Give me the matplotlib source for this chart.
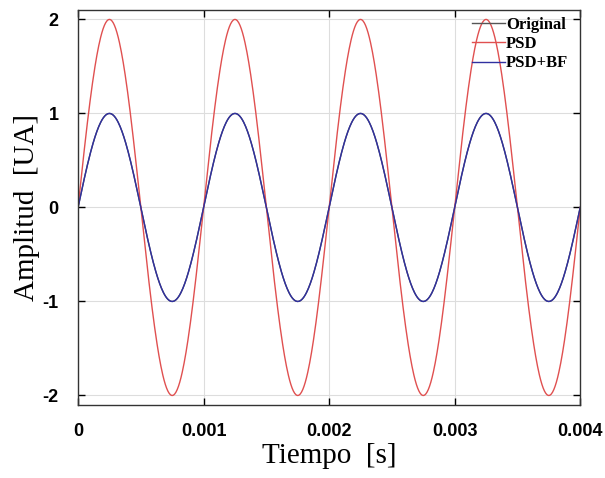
import numpy as np
import matplotlib
matplotlib.use("Agg")
import matplotlib.pyplot as plt

# Signal parameters
freq_hz = 1000.0          # one period every 0.001 s
t_end = 0.004
series_names = ["Original", "PSD", "PSD+BF"]
series_amplitudes = [1.0, 2.0, 1.0]
series_colors = ["#555555", "#e05050", "#3030a0"]

x_ticks = [0, 0.001, 0.002, 0.003, 0.004]
x_tick_labels = ["0", "0.001", "0.002", "0.003", "0.004"]
y_ticks = [-2, -1, 0, 1, 2]
y_tick_labels = ["-2", "-1", "0", "1", "2"]

t = np.linspace(0, t_end, 801)

fig = plt.figure(figsize=(6.05, 4.78), dpi=100)
ax = fig.add_axes([0.129, 0.153, 0.830, 0.826])

for name, amp, col in zip(series_names, series_amplitudes, series_colors):
    ax.plot(t, amp * np.sin(2 * np.pi * freq_hz * t), color=col, lw=1.0, label=name)

ax.set_xlim(0, t_end)
ax.set_ylim(-2.1, 2.1)
ax.set_xticks(x_ticks)
ax.set_xticklabels(x_tick_labels)
ax.set_yticks(y_ticks)
ax.set_yticklabels(y_tick_labels)
ax.grid(True, color="#dddddd", lw=0.8)
ax.tick_params(direction="in", top=True, right=True, length=5, width=1,
               labelsize=13)
ax.tick_params(axis="x", pad=13)
ax.tick_params(axis="y", pad=14)
for lab in ax.get_xticklabels() + ax.get_yticklabels():
    lab.set_fontfamily("Liberation Sans")
    lab.set_fontweight("bold")
for sp in ax.spines.values():
    sp.set_linewidth(1.0)
    sp.set_color("#333333")

ax.set_xlabel("Tiempo  [s]", fontfamily="Liberation Serif", fontsize=21, labelpad=2)
ax.set_ylabel("Amplitud  [UA]", fontfamily="Liberation Serif", fontsize=21, labelpad=2)

leg = ax.legend(loc="upper right", frameon=False, handlelength=2.0,
                handletextpad=0.05, labelspacing=0.2, borderaxespad=0.0,
                bbox_to_anchor=(0.99, 1.0),
                prop={"family": "Liberation Serif", "weight": "bold", "size": 12})

fig.savefig("out.png", dpi=100)
